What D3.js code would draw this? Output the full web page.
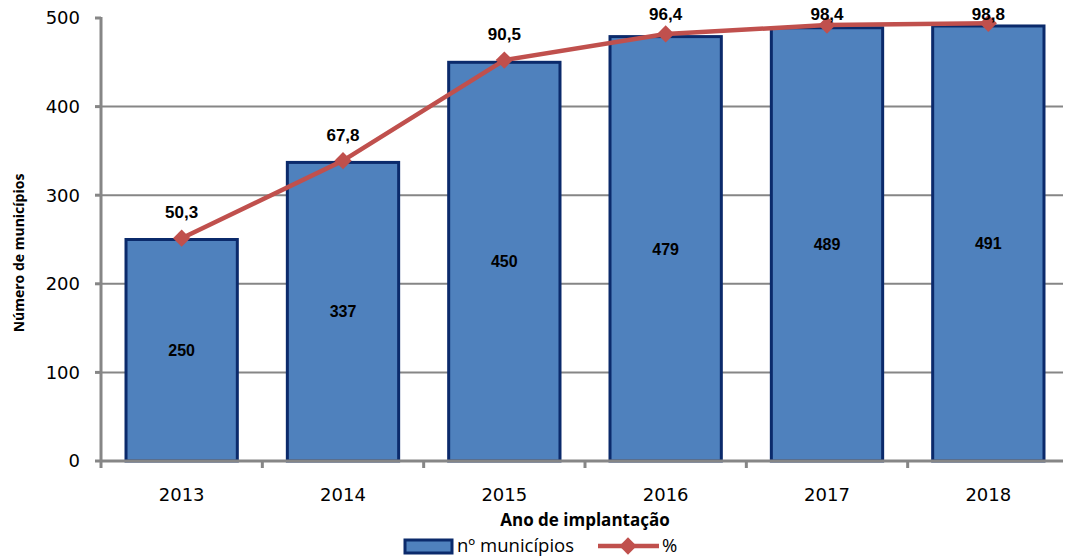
<!DOCTYPE html>
<html><head><meta charset="utf-8">
<script src="https://cdn.jsdelivr.net/npm/d3@7/dist/d3.min.js"></script>
<style>body{margin:0;background:#fff;}svg{display:block;}</style>
</head><body>
<svg id="c" width="1065" height="559"></svg>
<script>
const years = ["2013","2014","2015","2016","2017","2018"];
const municipios = [250, 337, 450, 479, 489, 491];
const percent = [50.3, 67.8, 90.5, 96.4, 98.4, 98.8];
const percentLabels = ["50,3","67,8","90,5","96,4","98,4","98,8"];
const yTicks = [0, 100, 200, 300, 400, 500];

const svg = d3.select("#c");
const pLeft = 101, pRight = 1069, pTop = 18, pBottom = 461;
const x = d3.scaleBand().domain(years).range([pLeft, pRight]).padding(0);
const y = d3.scaleLinear().domain([0, 500]).range([pBottom, pTop]);
const y2 = d3.scaleLinear().domain([0, 100]).range([pBottom, pTop]);
const grey = "#868686";

// gridlines
svg.append("g").selectAll("line").data(yTicks.filter(d => d > 0 && d < 500)).join("line")
  .attr("x1", pLeft).attr("x2", 1063).attr("y1", d => y(d)).attr("y2", d => y(d))
  .attr("stroke", grey).attr("stroke-width", 2);

// bars
const bw = x.bandwidth() * 0.69;
svg.append("g").selectAll("rect").data(years).join("rect")
  .attr("x", (d) => x(d) + (x.bandwidth() - bw) / 2)
  .attr("y", (d, i) => y(municipios[i]))
  .attr("width", bw)
  .attr("height", (d, i) => y(0) - y(municipios[i]))
  .attr("fill", "#4f81bd").attr("stroke", "#0b2a6b").attr("stroke-width", 3);

// x axis line
svg.append("line").attr("x1", pLeft).attr("x2", 1063).attr("y1", pBottom).attr("y2", pBottom)
  .attr("stroke", grey).attr("stroke-width", 3);
const edges = years.map(d => x(d)).concat([x(years[years.length-1]) + x.bandwidth()]);
svg.append("g").selectAll("line").data(edges.filter(e => e < 1065)).join("line")
  .attr("x1", d => d).attr("x2", d => d).attr("y1", pBottom).attr("y2", pBottom + 7)
  .attr("stroke", grey).attr("stroke-width", 3);

// y axis
svg.append("line").attr("x1", pLeft).attr("x2", pLeft).attr("y1", pTop - 1).attr("y2", pBottom + 1)
  .attr("stroke", grey).attr("stroke-width", 3);
svg.append("g").selectAll("line").data(yTicks).join("line")
  .attr("x1", pLeft - 6).attr("x2", pLeft).attr("y1", d => y(d)).attr("y2", d => y(d))
  .attr("stroke", grey).attr("stroke-width", 3);
svg.append("g").selectAll("text").data(yTicks).join("text")
  .attr("x", 80).attr("y", d => y(d)).attr("dy", "0.36em").attr("text-anchor", "end")
  .attr("font-family", "DejaVu Sans").attr("font-size", 18).attr("fill", "#000")
  .text(d => d);

// x labels
svg.append("g").selectAll("text").data(years).join("text")
  .attr("x", d => x(d) + x.bandwidth() / 2).attr("y", 495).attr("dy", "0.36em")
  .attr("text-anchor", "middle").attr("font-family", "DejaVu Sans").attr("font-size", 18)
  .text(d => d);

// bar value labels
svg.append("g").selectAll("text").data(years).join("text")
  .attr("x", d => x(d) + x.bandwidth() / 2)
  .attr("y", (d, i) => (y(municipios[i]) + y(0)) / 2).attr("dy", "0.36em")
  .attr("text-anchor", "middle").attr("font-family", "Liberation Sans, Arial").attr("font-weight", "bold")
  .attr("font-size", 16).text((d, i) => municipios[i]);

// line
const pts = years.map((d, i) => [x(d) + x.bandwidth() / 2, y2(percent[i])]);
svg.append("path").attr("d", d3.line()(pts))
  .attr("fill", "none").attr("stroke", "#c0504d").attr("stroke-width", 4.5)
  .attr("stroke-linejoin", "round");
svg.append("g").selectAll("path").data(pts).join("path")
  .attr("d", d3.symbol(d3.symbolDiamond2, 190)())
  .attr("transform", d => `translate(${d[0]},${d[1]})`)
  .attr("fill", "#c0504d");

// percent labels
svg.append("g").selectAll("text").data(pts).join("text")
  .attr("x", d => d[0]).attr("y", d => Math.max(d[1] - 26, 14)).attr("dy", "0.36em")
  .attr("text-anchor", "middle").attr("font-family", "Liberation Sans, Arial").attr("font-weight", "bold")
  .attr("font-size", 17).text((d, i) => percentLabels[i]);

// axis titles
svg.append("text").attr("transform", "translate(24,253) rotate(-90)")
  .attr("text-anchor", "middle").attr("font-family", "Open Sans").attr("font-weight", "bold")
  .attr("font-size", 14).text("Número de municípios");
svg.append("text").attr("x", 585).attr("y", 520).attr("dy", "0.36em")
  .attr("text-anchor", "middle").attr("font-family", "Open Sans").attr("font-weight", "bold")
  .attr("font-size", 17).text("Ano de implantação");

// legend
const lg = svg.append("g");
lg.append("rect").attr("x", 405).attr("y", 540).attr("width", 47).attr("height", 13)
  .attr("fill", "#4f81bd").attr("stroke", "#0b2a6b").attr("stroke-width", 3);
lg.append("text").attr("x", 457).attr("y", 545).attr("dy", "0.36em")
  .attr("font-family", "Open Sans").attr("font-size", 18.5).text("nº municípios");
lg.append("line").attr("x1", 598).attr("x2", 659).attr("y1", 546).attr("y2", 546)
  .attr("stroke", "#c0504d").attr("stroke-width", 4.5);
lg.append("path").attr("d", d3.symbol(d3.symbolDiamond2, 190)())
  .attr("transform", "translate(628,546)").attr("fill", "#c0504d");
lg.append("text").attr("x", 662).attr("y", 545).attr("dy", "0.36em")
  .attr("font-family", "Open Sans").attr("font-size", 18.5).text("%");
</script>
</body></html>
